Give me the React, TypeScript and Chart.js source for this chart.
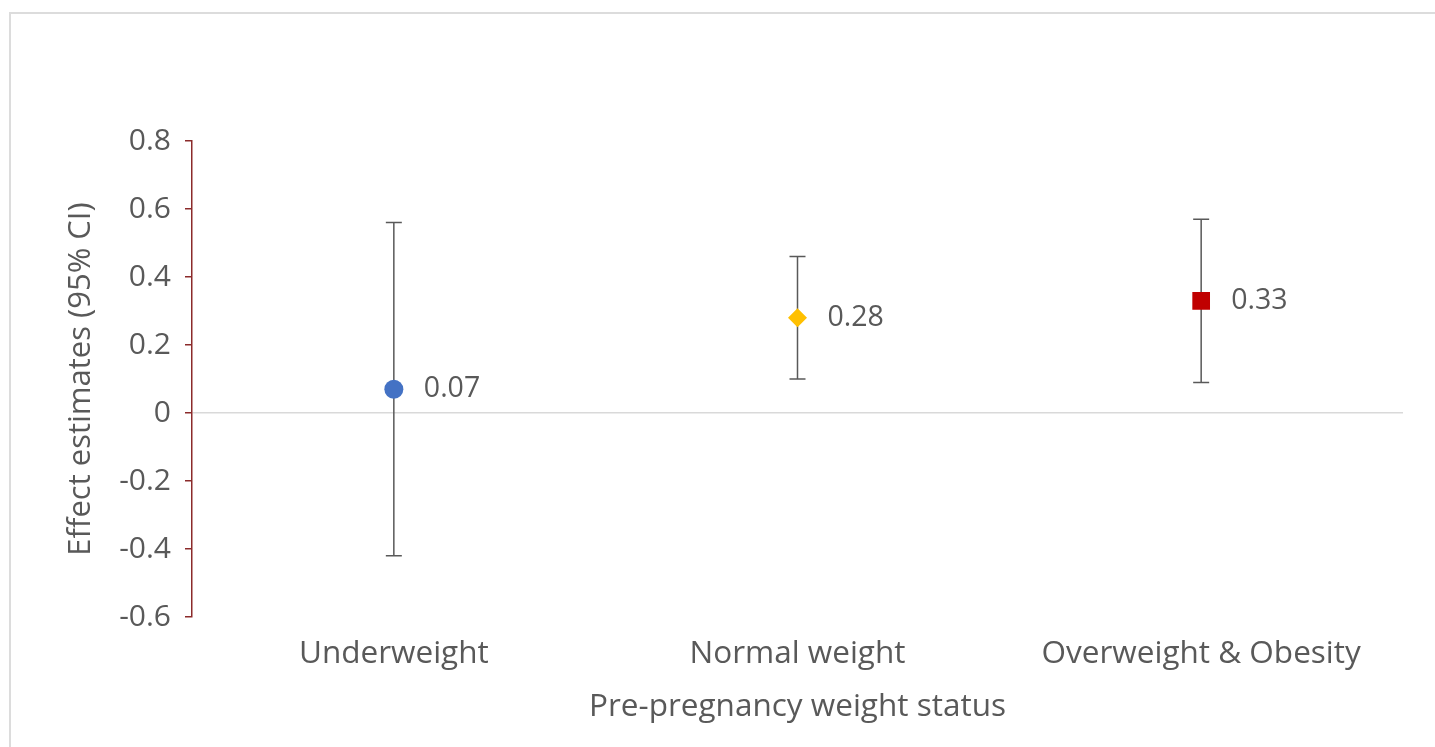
import React, { useEffect, useRef } from "react";
import { Chart, registerables } from "chart.js";

Chart.register(...registerables);

const categories = ["Underweight", "Normal weight", "Overweight & Obesity"];
const estimates = [0.07, 0.28, 0.33];
const lowerCI = [-0.42, 0.10, 0.09];
const upperCI = [0.56, 0.46, 0.57];
const pointColors = ["#4472C4", "#FFC000", "#C00000"];
const pointStyles = ["circle", "rectRot", "rect"];
const pointRadii = [9.5, 9.5, 12.5];
const yTicks = [0.8, 0.6, 0.4, 0.2, 0, -0.2, -0.4, -0.6];

const FONT = "'Open Sans', 'Noto Sans', sans-serif";
const TEXT = "#595959";

const framePlugin = {
  id: "frame",
  beforeDraw(chart: any) {
    const ctx = chart.ctx;
    ctx.save();
    ctx.strokeStyle = "#dcdcdc";
    ctx.lineWidth = 2;
    ctx.beginPath();
    ctx.moveTo(10, chart.height);
    ctx.lineTo(10, 13);
    ctx.lineTo(chart.width, 13);
    ctx.stroke();
    ctx.restore();
  },
};

const errorBarPlugin = {
  id: "errorBars",
  beforeDatasetsDraw(chart: any) {
    const ctx = chart.ctx;
    const x = chart.scales.x;
    const y = chart.scales.y;
    ctx.save();
    ctx.strokeStyle = "#595959";
    ctx.lineWidth = 1.5;
    categories.forEach((_, i) => {
      const px = x.getPixelForValue(i);
      const yl = y.getPixelForValue(lowerCI[i]);
      const yu = y.getPixelForValue(upperCI[i]);
      ctx.beginPath();
      ctx.moveTo(px, yl);
      ctx.lineTo(px, yu);
      ctx.moveTo(px - 8, yl);
      ctx.lineTo(px + 8, yl);
      ctx.moveTo(px - 8, yu);
      ctx.lineTo(px + 8, yu);
      ctx.stroke();
    });
    ctx.restore();
  },
};

const labelPlugin = {
  id: "valueLabels",
  afterDatasetsDraw(chart: any) {
    const ctx = chart.ctx;
    const x = chart.scales.x;
    const y = chart.scales.y;
    ctx.save();
    ctx.fillStyle = TEXT;
    ctx.font = `28.5px ${FONT}`;
    ctx.textAlign = "left";
    ctx.textBaseline = "middle";
    estimates.forEach((v, i) => {
      const px = x.getPixelForValue(i);
      const py = y.getPixelForValue(v);
      ctx.fillText(v.toFixed(2), px + 30, py);
    });
    ctx.restore();
  },
};

export default function App() {
  const ref = useRef<HTMLCanvasElement>(null);
  useEffect(() => {
    if (!ref.current) return;
    const chart = new Chart(ref.current, {
      type: "line",
      data: {
        labels: categories,
        datasets: [
          {
            data: estimates,
            showLine: false,
            pointStyle: pointStyles as any,
            pointRadius: pointRadii,
            pointHoverRadius: pointRadii,
            pointBackgroundColor: pointColors,
            pointBorderColor: pointColors,
            pointBorderWidth: 0,
          },
        ],
      },
      options: {
        responsive: false,
        animation: false,
        layout: { padding: { left: 0, top: 141, right: 32, bottom: 0 } },
        plugins: { legend: { display: false }, tooltip: { enabled: false } },
        scales: {
          x: {
            type: "category",
            offset: true,
            grid: { display: false, drawTicks: false },
            border: { display: false },
            ticks: {
              color: TEXT,
              font: { family: FONT, size: 31.5 },
              padding: 18,
              maxRotation: 0,
            },
            title: {
              display: true,
              text: "Pre-pregnancy weight status",
              color: TEXT,
              font: { family: FONT, size: 31.5 },
              padding: { top: 0, bottom: 21 },
            },
            afterFit: (s: any) => {
              s.height = 130;
            },
          },
          y: {
            min: -0.6,
            max: 0.8,
            afterBuildTicks: (s: any) => {
              s.ticks = yTicks.map((v) => ({ value: v }));
            },
            grid: {
              color: (c: any) => (c.tick && c.tick.value === 0 ? "#d9d9d9" : "rgba(0,0,0,0)"),
              lineWidth: 1.5,
              tickColor: "#8B2B2B",
              tickLength: 7,
              tickWidth: 1.5,
            },
            border: { display: true, color: "#8B2B2B", width: 1.5 },
            ticks: {
              color: TEXT,
              font: { family: FONT, size: 30 },
              padding: 14,
              callback: (v: any) => {
                const n = Number(v);
                if (n === 0) return "0";
                return n.toFixed(1);
              },
            },
            title: {
              display: true,
              text: "Effect estimates (95% CI)",
              color: TEXT,
              font: { family: FONT, size: 31 },
              padding: { top: 63, bottom: 0 },
            },
            afterFit: (s: any) => {
              s.width = 192;
            },
          },
        },
      },
      plugins: [framePlugin, errorBarPlugin, labelPlugin],
    });
    return () => chart.destroy();
  }, []);
  return (
    <canvas
      ref={ref}
      width={1435}
      height={747}
      style={{ position: "fixed", left: 0, top: 0, width: 1435, height: 747 }}
    />
  );
}
